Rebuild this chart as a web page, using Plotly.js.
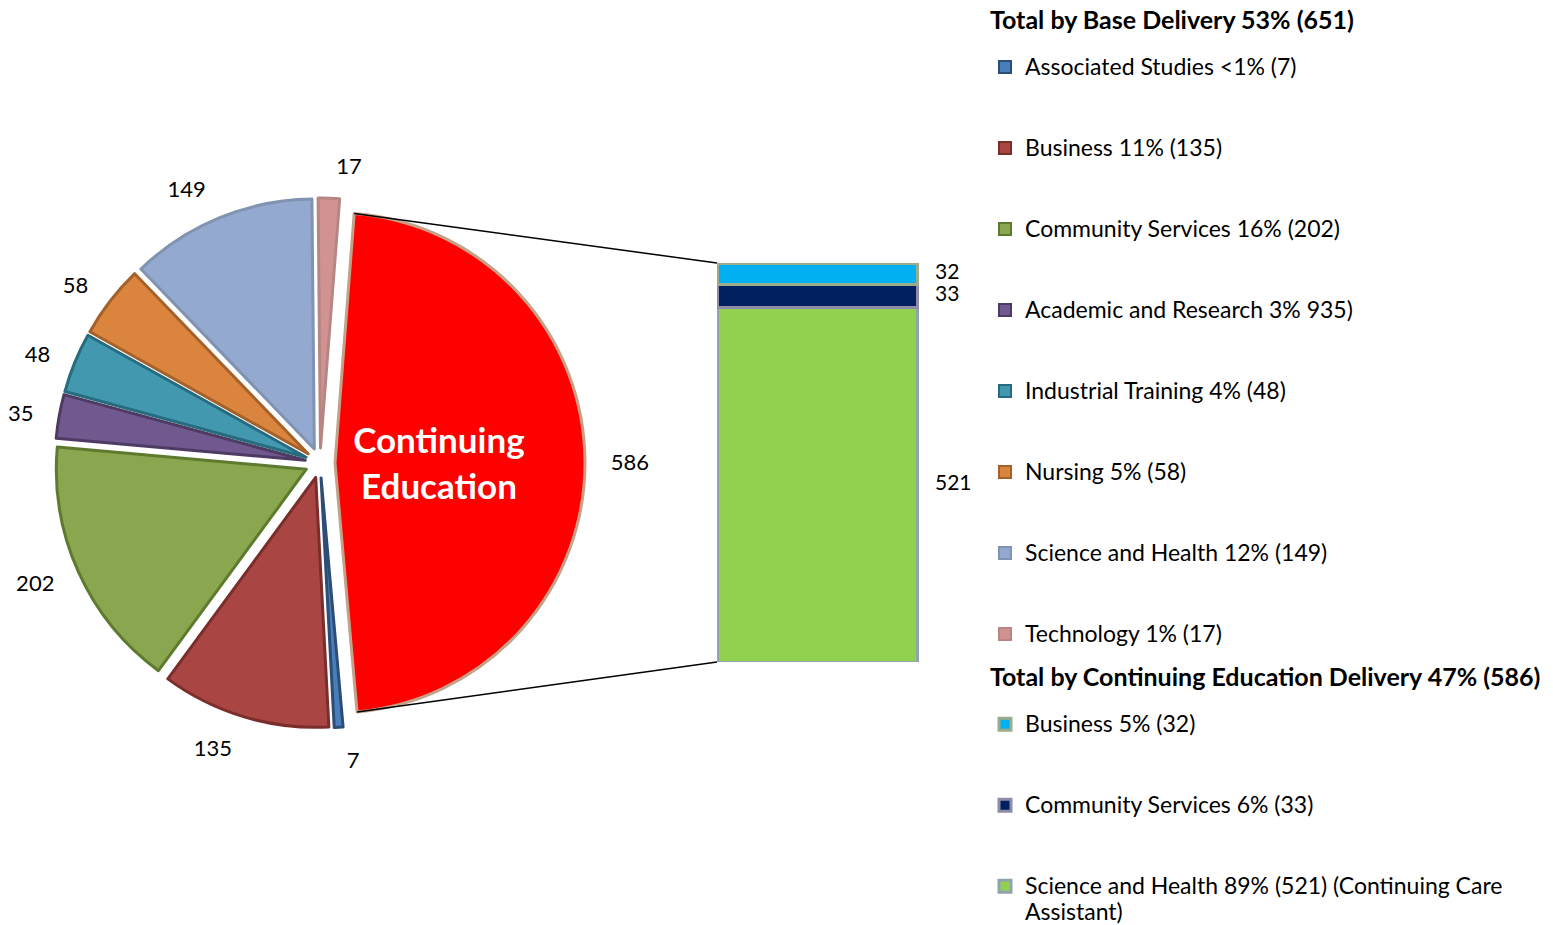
<!DOCTYPE html>
<html><head><meta charset="utf-8">
<script src="https://cdn.plot.ly/plotly-3.0.1.min.js"></script>
<style>html,body{margin:0;padding:0;background:#fff;} #chart{width:1553px;height:925px;}</style>
</head><body><div id="chart"></div>
<script>
// ---------- data ----------
const pieLabels = ['Continuing Education','Associated Studies','Business','Community Services','Academic and Research','Industrial Training','Nursing','Science and Health','Technology'];
const pieValues = [586, 7, 135, 202, 35, 48, 58, 149, 17];
const baseLegend = ['Associated Studies &lt;1% (7)','Business 11% (135)','Community Services 16% (202)','Academic and Research 3% 935)','Industrial Training 4% (48)','Nursing 5% (58)','Science and Health 12% (149)','Technology 1% (17)'];
const ceCategories = ['Science and Health','Community Services','Business']; // stacked bottom -> top
const ceValues = [521, 33, 32];
const ceLegend = ['Science and Health 89% (521) (Continuing Care<br>Assistant)','Community Services 6% (33)','Business 5% (32)'];
const baseTitle = 'Total by Base Delivery 53% (651)';
const ceTitle = 'Total by Continuing Education Delivery 47% (586)';
const centerLines = ['Continuing', 'Education'];

// ---------- styles ----------
const pieColors = ['#FF0000','#4A7EBB','#A94643','#8AA64E','#71588F','#4198AF','#DB843D','#93A9CF','#D19392'];
const pieLines  = ['#C4A189','#2C4D75','#7B2D2B','#5E7A2E','#4E3B64','#276C7E','#A5612A','#8093B0','#B78584'];
const ceColors = ['#92D050','#002060','#00B0F0'];
const ceLines  = ['#8EA4AE','#8E8CA8','#9BAB8C'];
const FONT = 'Lato, "Open Sans", sans-serif';
const W = 1553, H = 925;
const pieDomX = [0.0354, 0.3767], pieDomY = [0.2130, 0.7860];
const PULL = 0.06, ROT = 4.4;
const LABEL_SCALE = 1.072;   // outside value labels sit a little farther from the pie
const scaleDom = (d, k) => { const c = (d[0]+d[1])/2, h = (d[1]-d[0])/2*k; return [c-h, c+h]; };
const barDomX = [717/W, 1017/W], barDomY = [1-662/H, 1-263/H];
const barRangeX = [-0.5, 1.0];
// trailing non-breaking spaces nudge the centred label a little towards the pie centre
const pad = '\u00A0'.repeat(5);
const centerLabel = centerLines.map(s => s + pad).join('<br>');

const itemName = s => `<span style="font-size:23px">${s}</span><br> <br> `;
const titleName = s => `<span style="font-size:25px"><b>${s}</b></span><br> `;
const groupTitleFont = {family: FONT, size: 14, color: '#000'};

const traces = [];
// main pie (slices)
traces.push({
  type:'pie', values: pieValues, labels: pieLabels, sort:false, direction:'clockwise', rotation: ROT,
  domain:{x: pieDomX, y: pieDomY}, pull: PULL,
  marker:{colors: pieColors, line:{color: pieLines, width: 3}},
  textinfo:'none', showlegend:false, hoverinfo:'label+value'
});
// transparent twin, slightly larger, carrying the outside value labels
traces.push({
  type:'pie', values: pieValues, labels: pieLabels, sort:false, direction:'clockwise', rotation: ROT,
  domain:{x: scaleDom(pieDomX, LABEL_SCALE), y: scaleDom(pieDomY, LABEL_SCALE)}, pull: PULL,
  marker:{colors: pieValues.map(()=> 'rgba(0,0,0,0)'), line:{width: 0}},
  textinfo:'value', textposition:'outside', textfont:{family: FONT, size: 22, color:'#000'},
  showlegend:false, hoverinfo:'skip'
});
// transparent twin carrying the big inside label
traces.push({
  type:'pie', values: pieValues, labels: pieLabels, sort:false, direction:'clockwise', rotation: ROT,
  domain:{x: pieDomX, y: pieDomY}, pull: PULL,
  marker:{colors: pieValues.map(()=> 'rgba(0,0,0,0)'), line:{width: 0}},
  text: pieLabels.map((l,i)=> i===0 ? centerLabel : ''), textinfo:'text', textposition:'inside',
  insidetextorientation:'horizontal',
  textfont:{family: FONT, size: 35, color:'#FFFFFF', weight:'bold'},
  showlegend:false, hoverinfo:'skip'
});
// legend entries for base delivery (no bars drawn)
baseLegend.forEach((name, i) => {
  traces.push({
    type:'bar', x:[null], y:[null], xaxis:'x2', yaxis:'y2',
    name: i === baseLegend.length-1 ? `<span style="font-size:23px">${name}</span>` : itemName(name),
    legendgroup:'base', legendrank: i+1,
    legendgrouptitle:{text: titleName(baseTitle), font: groupTitleFont},
    marker:{color: pieColors[i+1], line:{color: pieLines[i+1], width: 2}},
    hoverinfo:'skip'
  });
});
// stacked bar of continuing education
ceValues.forEach((v, i) => {
  const isLast = ceLegend[i].indexOf('<br>') >= 0;
  traces.push({
    type:'bar', x:[0], y:[v], width:[1], xaxis:'x2', yaxis:'y2',
    name: isLast ? `<span style="font-size:23px">${ceLegend[i]}</span>` : itemName(ceLegend[i]),
    legendgroup:'ce', legendrank: 100 - i,
    legendgrouptitle:{text: titleName(ceTitle), font: groupTitleFont},
    marker:{color: ceColors[i], line:{color: ceLines[i], width: 3}},
    hovertemplate: ceCategories[i] + ': %{y}<extra></extra>'
  });
});
// value labels beside the bar
let cum = 0;
const labelY = ceValues.map(v => { const m = cum + v/2; cum += v; return m; });
const ceTotal = cum;
traces.push({
  type:'scatter', mode:'text', x: ceValues.map(()=>0.59), y: labelY, text: ceValues.map(String),
  textposition:'middle right', cliponaxis:false, xaxis:'x2', yaxis:'y2',
  textfont:{family: FONT, size: 21, color:'#000'}, showlegend:false, hoverinfo:'skip'
});

// connector lines computed from pie geometry
const total = pieValues.reduce((a,b)=>a+b,0);
const boxW = (pieDomX[1]-pieDomX[0])*W, boxH = (pieDomY[1]-pieDomY[0])*H;
const R = Math.min(boxW, boxH)/2/(1+PULL);
const cx = (pieDomX[0]+pieDomX[1])/2*W, cy = (1-(pieDomY[0]+pieDomY[1])/2)*H;
const a0 = ROT*Math.PI/180, a1 = a0 + pieValues[0]/total*2*Math.PI, am = (a0+a1)/2;
const ox = cx + PULL*R*Math.sin(am), oy = cy - PULL*R*Math.cos(am);
const P0 = [ox + R*Math.sin(a0), oy - R*Math.cos(a0)];
const P1 = [ox + R*Math.sin(a1), oy - R*Math.cos(a1)];
const barLeft = barDomX[0] + (0 - 0.5 - barRangeX[0])/(barRangeX[1]-barRangeX[0])*(barDomX[1]-barDomX[0]);
const shapes = [
  {type:'line', xref:'paper', yref:'paper', x0:P0[0]/W, y0:1-P0[1]/H, x1:barLeft, y1:barDomY[1], line:{color:'#000', width:1.5}},
  {type:'line', xref:'paper', yref:'paper', x0:P1[0]/W, y0:1-P1[1]/H, x1:barLeft, y1:barDomY[0], line:{color:'#000', width:1.5}}
];

const layout = {
  width: W, height: H, paper_bgcolor:'#fff', plot_bgcolor:'rgba(0,0,0,0)',
  margin:{l:0, r:0, t:0, b:0, autoexpand:false},
  font:{family: FONT, color:'#000'},
  barmode:'stack',
  xaxis2:{domain: barDomX, range: barRangeX, visible:false, anchor:'y2', fixedrange:true},
  yaxis2:{domain: barDomY, range:[0, ceTotal], visible:false, anchor:'x2', fixedrange:true},
  shapes: shapes,
  legend:{x: 985/W, xanchor:'left', y: 1 - 8/H, yanchor:'top', valign:'top', traceorder:'grouped',
          tracegroupgap: 22, font:{family: FONT, size: 20, color:'#000'}, bgcolor:'rgba(0,0,0,0)', borderwidth:0},
  showlegend: true
};
Plotly.newPlot('chart', traces, layout, {displayModeBar:false});
</script>
</body></html>
